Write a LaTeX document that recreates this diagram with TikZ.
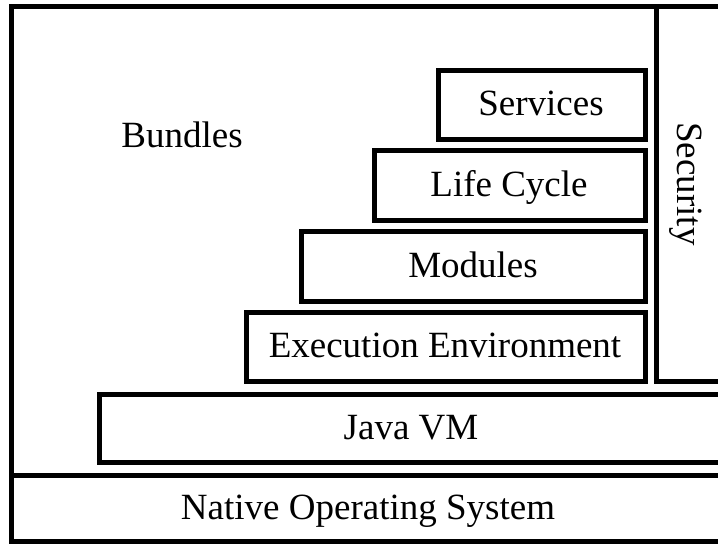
\documentclass[tikz,border=0pt]{standalone}
\usepackage{fontspec}
\setmainfont{Liberation Serif}
\begin{document}
\begin{tikzpicture}[x=1pt,y=-1pt,line width=5pt,
  label/.style={anchor=base,inner sep=0pt,font=\fontsize{37}{44}\selectfont}]
\useasboundingbox (0,0) rectangle (718,544);
% framework and platform
\draw[shift={(11,6)}] (0,0) rectangle (729,469);
\draw[shift={(11,475)}] (0,0) rectangle (729,66);
\draw[shift={(656,6)}] (0,0) rectangle (84,375);
\draw[shift={(99,394)}] (0,0) rectangle (641,68);
% layers
\draw[shift={(246,312)}] (0,0) rectangle (399,69);
\draw[shift={(301,231)}] (0,0) rectangle (344,70);
\draw[shift={(374,150)}] (0,0) rectangle (271,70);
\draw[shift={(438,70)}] (0,0) rectangle (207,69);

\node[label] (bundles) at (182,147) {Bundles};
\node[label] (services) at (541,115) {Services};
\node[label] (lifecycle) at (509,196) {Life Cycle};
\node[label] (modules) at (473,277) {Modules};
\node[label] (execenv) at (445,357) {Execution Environment};
\node[label] (javavm) at (411,439) {Java VM};
\node[label] (nativeos) at (368,519) {Native Operating System};
\node[label,rotate=-90] (security) at (677,184) {Security};
\end{tikzpicture}
\end{document}
